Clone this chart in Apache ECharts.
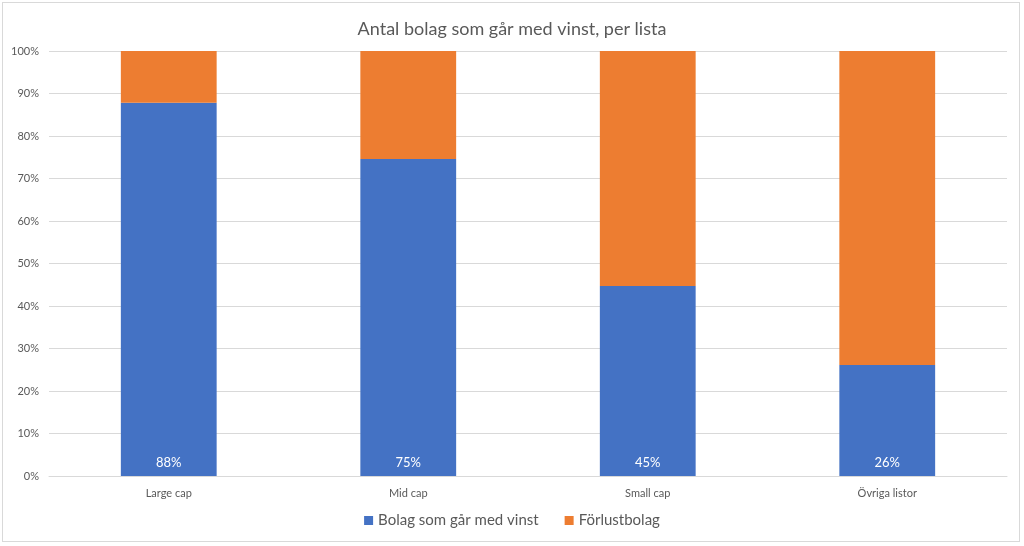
<!DOCTYPE html>
<html>
<head>
<meta charset="utf-8">
<script src="https://cdn.jsdelivr.net/npm/echarts@6/dist/echarts.min.js"></script>
<style>
    html, body { margin: 0; padding: 0; background: #fff; }
    #frame { position: absolute; left: 2px; top: 2px; width: 1018px; height: 540px; border: 1px solid #d9d9d9; box-sizing: border-box; }
    #chart { position: absolute; left: 0; top: 0; width: 1024px; height: 546px; }
</style>
</head>
<body>
<div id="frame"></div>
<div id="chart"></div>
<script>
const categories = ["Large cap", "Mid cap", "Small cap", "Övriga listor"];
const vinst = [87.8, 74.6, 44.7, 26.1];
const forlust = [12.2, 25.4, 55.3, 73.9];
const vinstLabels = ["88%", "75%", "45%", "26%"];

const font = "Lato, 'Open Sans', sans-serif";
const textColor = "#595959";

const chart = echarts.init(document.getElementById("chart"), null, { renderer: "canvas" });
chart.setOption({
    animation: false,
    title: {
        text: "Antal bolag som går med vinst, per lista",
        left: "center",
        top: 15,
        textStyle: { fontFamily: font, fontSize: 18, fontWeight: "normal", color: textColor }
    },
    legend: {
        bottom: 13,
        left: "center",
        itemWidth: 9,
        itemHeight: 9,
        itemGap: 26,
        icon: "rect",
        textStyle: { fontFamily: font, fontSize: 15, color: textColor }
    },
    grid: { left: 49, right: 17, top: 51, bottom: 70, containLabel: false },
    xAxis: {
        type: "category",
        data: categories,
        axisLine: { lineStyle: { color: "#d9d9d9" } },
        axisTick: { show: false },
        axisLabel: { fontFamily: font, fontSize: 11, color: textColor, margin: 12 }
    },
    yAxis: {
        type: "value",
        min: 0,
        max: 100,
        interval: 10,
        axisLabel: { fontFamily: font, fontSize: 11, color: textColor, formatter: "{value}%", margin: 10 },
        axisLine: { show: false },
        axisTick: { show: false },
        splitLine: { lineStyle: { color: "#d9d9d9" } }
    },
    series: [
        {
            name: "Bolag som går med vinst",
            type: "bar",
            stack: "total",
            barWidth: "40%",
            data: vinst,
            itemStyle: { color: "#4472C4" },
            label: {
                show: true,
                position: "insideBottom",
                distance: 7,
                formatter: (p) => vinstLabels[p.dataIndex],
                fontFamily: font,
                fontSize: 13,
                color: "#ffffff"
            }
        },
        {
            name: "Förlustbolag",
            type: "bar",
            stack: "total",
            barWidth: "40%",
            data: forlust,
            itemStyle: { color: "#ED7D31" }
        }
    ]
});
</script>
</body>
</html>
